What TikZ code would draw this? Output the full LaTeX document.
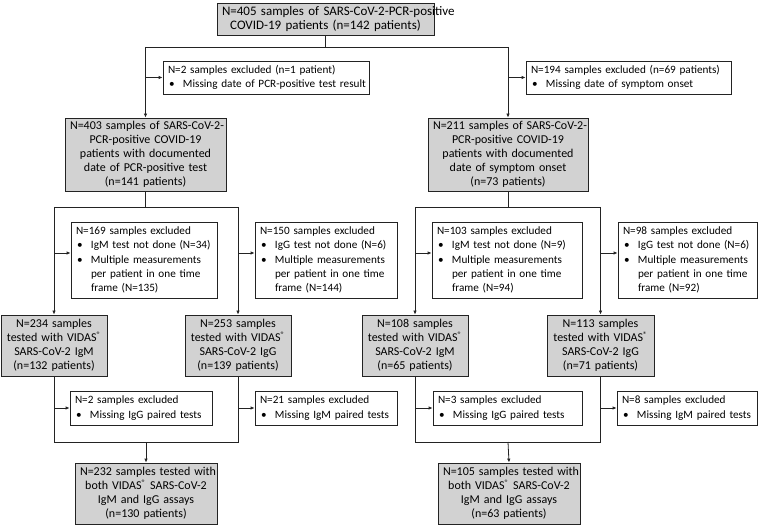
\documentclass[tikz,border=0pt]{standalone}
\usepackage{fontspec}
\setmainfont{Carlito}
\usetikzlibrary{arrows.meta,calc}
\definecolor{boxgray}{RGB}{210,210,210}
\definecolor{linecol}{RGB}{35,35,35}
\newcommand{\bl}[1]{\makebox[15pt][l]{\hspace{1pt}\textbullet}\mbox{#1}}
\newcommand{\ind}[1]{\hspace*{15pt}\mbox{#1}}
\newcommand{\tl}[1]{\mbox{#1}}
\newcommand{\reg}{\textsuperscript{\textregistered}}
\tikzset{
  base/.style={draw=linecol, line width=0.8pt, inner xsep=5pt, inner ysep=2pt},
  gbox/.style={base, fill=boxgray, align=center, font=\fontsize{12}{14}\selectfont},
  topbox/.style={gbox, font=\fontsize{13}{14}\selectfont},
  ebox/.style={base, fill=white, align=left, font=\fontsize{11.2}{14.2}\selectfont},
  ln/.style={draw=linecol, line width=0.8pt},
  arr/.style={ln, -{Latex[length=4pt,width=3.5pt]}}
}
\begin{document}
\begin{tikzpicture}[x=1pt,y=-1pt]
\useasboundingbox (0,0) rectangle (760,526);
% top
\node[topbox, text width=207pt, minimum height=32pt] (T) at (325.5,19)
  {\tl{N=405 samples of SARS-CoV-2-PCR-positive}\\\tl{COVID-19 patients (n=142 patients)}};
\node[ebox, text width=196pt, minimum height=33pt] (E1) at (266,77.5)
  {\tl{N=2 samples excluded (n=1 patient)}\\\bl{Missing date of PCR-positive test result}};
\node[ebox, text width=195pt, minimum height=33pt] (E2) at (628.5,77.5)
  {\tl{N=194 samples excluded (n=69 patients)}\\\bl{Missing date of symptom onset}};
% row 2
\node[gbox, text width=151pt, minimum height=73pt] (N403) at (145.5,154.5)
  {\tl{N=403 samples of SARS-CoV-2-}\\\tl{PCR-positive COVID-19}\\\tl{patients with documented}\\\tl{date of PCR-positive test}\\\tl{(n=141 patients)}};
\node[gbox, text width=150pt, minimum height=73pt] (N211) at (508,154.5)
  {\tl{N=211 samples of SARS-CoV-2-}\\\tl{PCR-positive COVID-19}\\\tl{patients with documented}\\\tl{date of symptom onset}\\\tl{(n=73 patients)}};
\node[ebox, text width=136pt, minimum height=76pt] (E169) at (144,260)
  {\tl{N=169 samples excluded}\\\bl{IgM test not done (N=34)}\\\bl{Multiple measurements}\\\ind{per patient in one time}\\\ind{frame (N=135)}};
\node[ebox, text width=132pt, minimum height=76pt] (E150) at (326,260)
  {\tl{N=150 samples excluded}\\\bl{IgG test not done (N=6)}\\\bl{Multiple measurements}\\\ind{per patient in one time}\\\ind{frame (N=144)}};
\node[ebox, text width=140pt, minimum height=76pt] (E103) at (507,260)
  {\tl{N=103 samples excluded}\\\bl{IgM test not done (N=9)}\\\bl{Multiple measurements}\\\ind{per patient in one time}\\\ind{frame (N=94)}};
\node[ebox, text width=129pt, minimum height=76pt] (E98) at (687.5,260)
  {\tl{N=98 samples excluded}\\\bl{IgG test not done (N=6)}\\\bl{Multiple measurements}\\\ind{per patient in one time}\\\ind{frame (N=92)}};
% row 3
\node[gbox, text width=96pt, minimum height=61pt] (A) at (54,345.5)
  {\tl{N=234 samples}\\\tl{tested with VIDAS\reg}\\\tl{SARS-CoV-2 IgM}\\\tl{(n=132 patients)}};
\node[gbox, text width=96pt, minimum height=61pt] (B) at (238,345.5)
  {\tl{N=253 samples}\\\tl{tested with VIDAS\reg}\\\tl{SARS-CoV-2 IgG}\\\tl{(n=139 patients)}};
\node[gbox, text width=96pt, minimum height=61pt] (C) at (415,345.5)
  {\tl{N=108 samples}\\\tl{tested with VIDAS\reg}\\\tl{SARS-CoV-2 IgM}\\\tl{(n=65 patients)}};
\node[gbox, text width=97pt, minimum height=61pt] (D) at (600.5,345.5)
  {\tl{N=113 samples}\\\tl{tested with VIDAS\reg}\\\tl{SARS-CoV-2 IgG}\\\tl{(n=71 patients)}};
\node[ebox, text width=132pt, minimum height=34pt] (X2) at (141,408)
  {\tl{N=2 samples excluded}\\\bl{Missing IgG paired tests}};
\node[ebox, text width=132pt, minimum height=34pt] (X21) at (326,408)
  {\tl{N=21 samples excluded}\\\bl{Missing IgM paired tests}};
\node[ebox, text width=139pt, minimum height=34pt] (X3) at (507.5,408)
  {\tl{N=3 samples excluded}\\\bl{Missing IgG paired tests}};
\node[ebox, text width=130pt, minimum height=34pt] (X8) at (687,408)
  {\tl{N=8 samples excluded}\\\bl{Missing IgM paired tests}};
% final
\node[gbox, text width=132pt, minimum height=61pt] (F1) at (146,493.5)
  {\tl{N=232 samples tested with}\\\tl{both VIDAS\reg\ SARS-CoV-2}\\\tl{IgM and IgG assays}\\\tl{(n=130 patients)}};
\node[gbox, text width=132pt, minimum height=61pt] (F2) at (509,493.5)
  {\tl{N=105 samples tested with}\\\tl{both VIDAS\reg\ SARS-CoV-2}\\\tl{IgM and IgG assays}\\\tl{(n=63 patients)}};
% junctions
\coordinate (j0) at (325.5,47);
\coordinate (j1) at (145.5,207);
\coordinate (j2) at (508,207);
\coordinate (j3) at (146,442);
\coordinate (j4) at (508,442);
% connectors top
\draw[ln] (T.south) -- (j0);
\draw[ln] (N403.north |- j0) -- (N211.north |- j0);
\draw[arr] (N403.north |- j0) -- (N403.north);
\draw[arr] (N211.north |- j0) -- (N211.north);
\draw[arr] (E1.west -| N403.north) -- (E1.west);
\draw[arr] (E2.west -| N211.north) -- (E2.west);
% row 2 connectors
\draw[ln] (N403.south) -- (j1);
\draw[ln] (A.north |- j1) -- (B.north |- j1);
\draw[arr] (A.north |- j1) -- (A.north);
\draw[arr] (B.north |- j1) -- (B.north);
\draw[arr] ([yshift=7pt]E169.west -| A.north) -- ([yshift=7pt]E169.west);
\draw[arr] ([yshift=7pt]E150.west -| B.north) -- ([yshift=7pt]E150.west);
\draw[ln] (N211.south) -- (j2);
\draw[ln] (C.north |- j2) -- (D.north |- j2);
\draw[arr] (C.north |- j2) -- (C.north);
\draw[arr] (D.north |- j2) -- (D.north);
\draw[arr] ([yshift=7pt]E103.west -| C.north) -- ([yshift=7pt]E103.west);
\draw[arr] ([yshift=7pt]E98.west -| D.north) -- ([yshift=7pt]E98.west);
% row 3 connectors
\draw[ln] (A.south) -- (A.south |- j3) -- (B.south |- j3) -- (B.south);
\draw[arr] (j3) -- (F1.north);
\draw[arr] (X2.west -| A.south) -- (X2.west);
\draw[arr] (X21.west -| B.south) -- (X21.west);
\draw[ln] (C.south) -- (C.south |- j4) -- (D.south |- j4) -- (D.south);
\draw[arr] (j4) -- (F2.north);
\draw[arr] (X3.west -| C.south) -- (X3.west);
\draw[arr] (X8.west -| D.south) -- (X8.west);
\end{tikzpicture}
\end{document}
